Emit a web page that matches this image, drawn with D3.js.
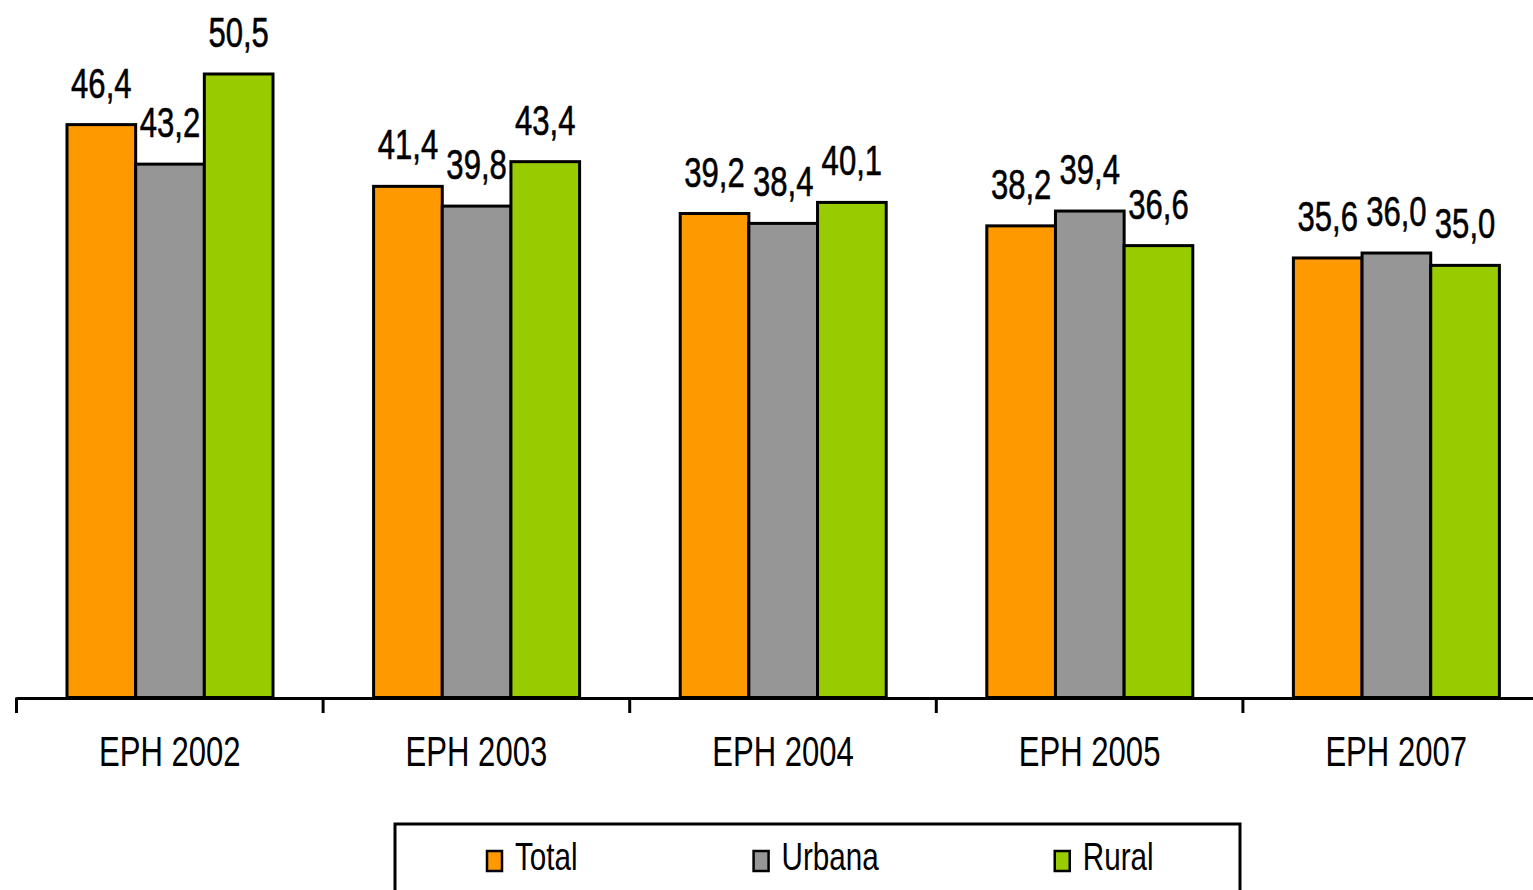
<!DOCTYPE html>
<html>
<head>
<meta charset="utf-8">
<script src="https://cdn.jsdelivr.net/npm/d3@7"></script>
<style>
  body { margin: 0; background: #fff; }
  svg { display: block; overflow: hidden; }
  text { font-family: "Liberation Sans", Arial, sans-serif; fill: #000; }
</style>
</head>
<body>
<svg width="1533" height="890"></svg>
<script>
const categories = ['EPH 2002', 'EPH 2003', 'EPH 2004', 'EPH 2005', 'EPH 2007'];
const seriesNames = ['Total', 'Urbana', 'Rural'];
const total = [46.4, 41.4, 39.2, 38.2, 35.6];
const urbana = [43.2, 39.8, 38.4, 39.4, 36.0];
const rural = [50.5, 43.4, 40.1, 36.6, 35.0];
const colors = ['#ff9900', '#969696', '#99cc00'];

const values = [total, urbana, rural];
const data = categories.map((c, i) => ({
    cat: c,
    items: seriesNames.map((s, j) => ({ series: s, value: values[j][i] }))
}));

const svg = d3.select('svg');
const squeeze = 0.74;
const fmt = v => d3.format('.1f')(v).replace('.', ',');

const baseY = 697.5;
const x0 = d3.scaleBand()
    .domain(categories)
    .range([16.5, 16.5 + 5 * 306.6]);

const x1 = d3.scaleBand()
    .domain(seriesNames)
    .range([50.5, 256.5]);

const color = d3.scaleOrdinal().domain(seriesNames).range(colors);

const y = d3.scaleLinear()
    .domain([0, 50.5])
    .range([baseY, 74]);

// bars
const groups = svg.selectAll('.group')
    .data(data)
    .enter().append('g')
    .attr('class', 'group')
    .attr('transform', d => `translate(${x0(d.cat)},0)`);

groups.selectAll('rect')
    .data(d => d.items)
    .enter().append('rect')
    .attr('x', d => x1(d.series))
    .attr('y', d => y(d.value))
    .attr('width', x1.bandwidth())
    .attr('height', d => baseY - y(d.value))
    .attr('fill', d => color(d.series))
    .attr('stroke', '#000')
    .attr('stroke-width', 3);

// value labels
groups.selectAll('.label')
    .data(d => d.items)
    .enter().append('text')
    .attr('class', 'label')
    .attr('text-anchor', 'middle')
    .attr('font-size', 42)
    .attr('stroke', '#000')
    .attr('stroke-width', 0.6)
    .attr('transform', d => `translate(${x1(d.series) + x1.bandwidth() / 2},${y(d.value) - 27}) scale(${squeeze},1)`)
    .text(d => fmt(d.value));

// axis
const axis = svg.append('g');
axis.append('line')
    .attr('x1', 16.5).attr('x2', 1533)
    .attr('y1', baseY + 1).attr('y2', baseY + 1)
    .attr('stroke', '#000').attr('stroke-width', 3);

axis.selectAll('.tick')
    .data(categories)
    .enter().append('line')
    .attr('class', 'tick')
    .attr('x1', d => x0(d)).attr('x2', d => x0(d))
    .attr('y1', baseY).attr('y2', 713)
    .attr('stroke', '#000').attr('stroke-width', 3);

axis.selectAll('.cat')
    .data(categories)
    .enter().append('text')
    .attr('class', 'cat')
    .attr('text-anchor', 'middle')
    .attr('font-size', 42)
    .attr('fill', '#111')
    .attr('transform', d => `translate(${x0(d) + x0.bandwidth() / 2},766) scale(${squeeze},1)`)
    .text(d => d);

// legend
const legend = svg.append('g');
legend.append('rect')
    .attr('x', 395).attr('y', 824)
    .attr('width', 845).attr('height', 90)
    .attr('fill', 'none')
    .attr('stroke', '#000').attr('stroke-width', 3);

const legSqueeze = 0.78;
let lx = 487;
seriesNames.forEach((s, i) => {
    legend.append('rect')
        .attr('x', lx).attr('y', 851)
        .attr('width', 15).attr('height', 20)
        .attr('fill', colors[i])
        .attr('stroke', '#000').attr('stroke-width', 2.5);
    const t = legend.append('text')
        .attr('font-size', 38)
        .attr('transform', `translate(${lx + 28},870) scale(${legSqueeze},1)`)
        .text(s);
    const w = t.node().getComputedTextLength() * legSqueeze;
    lx = lx + 28 + w + 176;
});
</script>
</body>
</html>
